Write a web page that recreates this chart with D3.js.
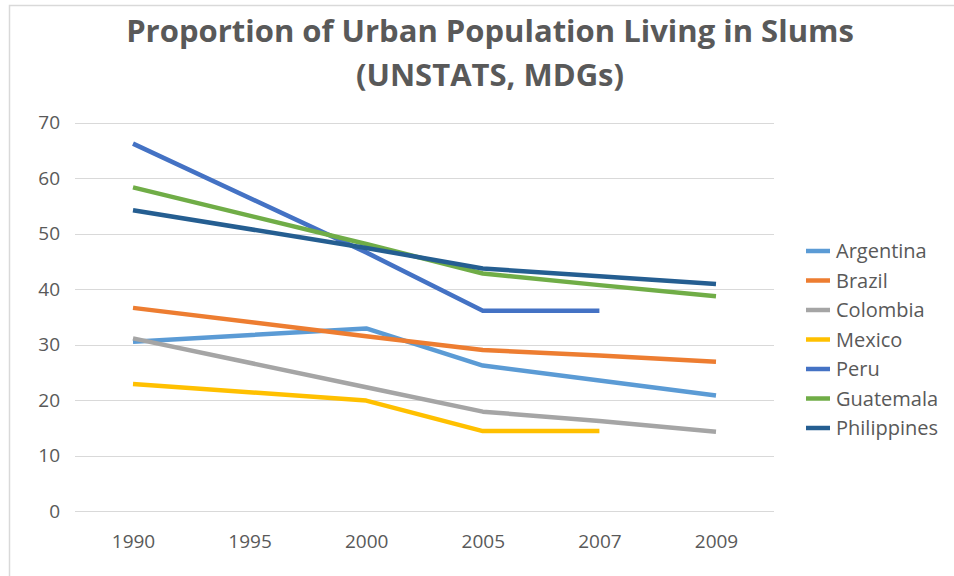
<!DOCTYPE html>
<html>
<head>
<meta charset="utf-8">
<script src="https://cdn.jsdelivr.net/npm/d3@7"></script>
<style>
  html, body { margin: 0; padding: 0; background: #fff; }
  svg text { font-family: "Open Sans", sans-serif; }
</style>
</head>
<body>
<svg id="chart"></svg>
<script>
// years on the category axis
var years = ["1990", "1995", "2000", "2005", "2007", "2009"];
var yTicks = [0, 10, 20, 30, 40, 50, 60, 70];
var titleLines = ["Proportion of Urban Population Living in Slums", "(UNSTATS, MDGs)"];

// values per year, null = no data (Excel skips the gap)
var argentina   = [30.5, null, 32.9, 26.2, 23.5, 20.8];
var brazil      = [36.6, null, 31.5, 29.0, 28.0, 26.9];
var colombia    = [31.1, null, 22.3, 17.9, 16.2, 14.3];
var mexico      = [22.9, null, 19.9, 14.4, 14.4, null];
var peru        = [66.2, null, 46.6, 36.1, 36.1, null];
var guatemala   = [58.3, null, 48.1, 42.8, 40.7, 38.7];
var philippines = [54.2, null, 47.4, 43.7, 42.3, 40.9];

var seriesNames = ["Argentina", "Brazil", "Colombia", "Mexico", "Peru", "Guatemala", "Philippines"];
var seriesValues = [argentina, brazil, colombia, mexico, peru, guatemala, philippines];
var seriesColors = ["#5b9bd5", "#ed7d31", "#a5a5a5", "#ffc000", "#4472c4", "#70ad47", "#255e91"];

var width = 954, height = 576;
var svg = d3.select("#chart").attr("width", width).attr("height", height);

// chart border (only left + top show in the crop)
svg.append("path")
  .attr("d", "M9.5,576 V5.5 H954")
  .attr("fill", "none")
  .attr("stroke", "#d9d9d9")
  .attr("stroke-width", 1.5);

// Title
var title = svg.append("g").attr("fill", "#595959")
  .attr("font-weight", "bold").attr("font-size", "31px").attr("text-anchor", "middle");
title.selectAll("text").data(titleLines).enter().append("text")
  .attr("x", 490)
  .attr("y", function(d, i) { return 42 + i * 44; })
  .text(function(d) { return d; });

// scales
var x = d3.scalePoint().domain(years).range([133, 716]);
var y = d3.scaleLinear().domain([0, 70]).range([511, 122.5]);

// gridlines
svg.append("g").selectAll("line").data(yTicks).enter().append("line")
  .attr("x1", 75).attr("x2", 774)
  .attr("y1", function(d) { return Math.round(y(d)) + 0.5; })
  .attr("y2", function(d) { return Math.round(y(d)) + 0.5; })
  .attr("stroke", "#d9d9d9")
  .attr("stroke-width", 1);

// y axis labels
var yAxis = svg.append("g")
  .attr("transform", "translate(75,0)")
  .call(d3.axisLeft(y).tickValues(yTicks).tickSize(0).tickPadding(15));
yAxis.select(".domain").remove();
yAxis.selectAll("text").attr("fill", "#595959").attr("font-size", "19px")
  .attr("font-family", "Open Sans, sans-serif");

// x axis labels
var xAxis = svg.append("g")
  .attr("transform", "translate(0,511)")
  .call(d3.axisBottom(x).tickSize(0).tickPadding(24));
xAxis.select(".domain").remove();
xAxis.selectAll("text").attr("fill", "#595959").attr("font-size", "19px")
  .attr("font-family", "Open Sans, sans-serif");

// lines, skipping missing points but connecting across them
var line = d3.line()
  .x(function(d) { return x(d.year); })
  .y(function(d) { return y(d.value); });

seriesNames.forEach(function(name, i) {
  var pts = years.map(function(yr, j) { return { year: yr, value: seriesValues[i][j] }; })
    .filter(function(d) { return d.value != null; });
  svg.append("path")
    .datum(pts)
    .attr("fill", "none")
    .attr("stroke", seriesColors[i])
    .attr("stroke-width", 4.5)
    .attr("stroke-linejoin", "round")
    .attr("d", line);
});

// Legend
var legend = svg.append("g").attr("transform", "translate(806,251)");
var items = legend.selectAll("g").data(seriesNames).enter().append("g")
  .attr("transform", function(d, i) { return "translate(0," + (i * 29.5) + ")"; });
items.append("line")
  .attr("x1", 0).attr("x2", 24).attr("y1", 0).attr("y2", 0)
  .attr("stroke", function(d, i) { return seriesColors[i]; })
  .attr("stroke-width", 4.5);
items.append("text")
  .attr("x", 30).attr("y", 0).attr("dy", "0.35em")
  .attr("fill", "#595959").attr("font-size", "20px")
  .text(function(d) { return d; });
</script>
</body>
</html>
